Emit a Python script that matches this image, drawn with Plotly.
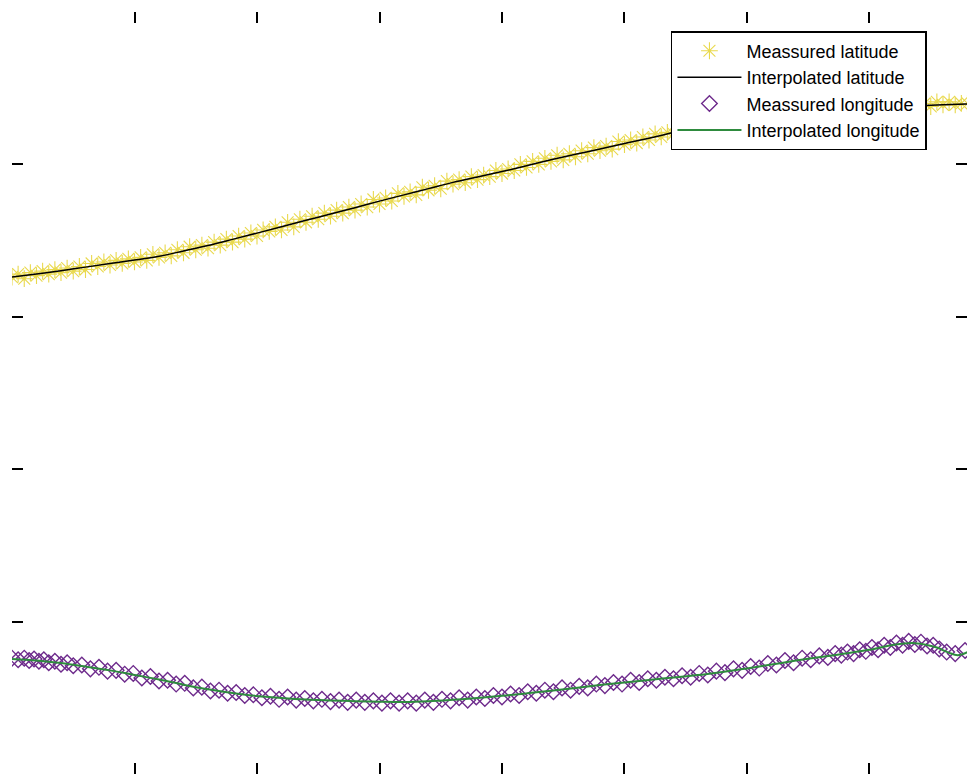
import plotly.graph_objects as go

# ---------------- data ----------------
x_ticks = [100, 200, 300, 400, 500, 600, 700]
y_ticks = [1, 2, 3, 4]

# interpolated latitude (smooth curve)
lat_interp_x = [0, 20, 40, 60, 80, 100, 120, 140, 160, 180, 200, 220, 240, 260, 280, 300,
                320, 340, 360, 380, 400, 420, 440, 460, 480, 500, 520, 540, 560, 580, 600,
                620, 640, 660, 680, 700, 720, 740, 760, 780]
lat_interp_y = [3.261, 3.281, 3.302, 3.326, 3.350, 3.372, 3.397, 3.432, 3.468, 3.508, 3.549,
                3.591, 3.633, 3.674, 3.716, 3.759, 3.800, 3.841, 3.882, 3.918, 3.953, 3.991,
                4.030, 4.066, 4.101, 4.137, 4.172, 4.209, 4.242, 4.272, 4.298, 4.320, 4.338,
                4.352, 4.363, 4.371, 4.378, 4.385, 4.391, 4.397]

# measured latitude (noisy samples)
lat_meas_x = list(range(0, 781, 5))
lat_meas_y = [3.26, 3.28, 3.25, 3.29, 3.27, 3.30, 3.28, 3.31, 3.29, 3.32, 3.30, 3.33, 3.31, 3.35,
              3.33, 3.36, 3.34, 3.37, 3.35, 3.38, 3.36, 3.39, 3.37, 3.41, 3.39, 3.42, 3.40, 3.44,
              3.42, 3.46, 3.44, 3.47, 3.45, 3.49, 3.47, 3.51, 3.49, 3.53, 3.51, 3.55, 3.53, 3.57,
              3.56, 3.59, 3.57, 3.62, 3.59, 3.64, 3.62, 3.66, 3.64, 3.68, 3.66, 3.70, 3.68, 3.72,
              3.70, 3.74, 3.72, 3.77, 3.74, 3.78, 3.76, 3.81, 3.79, 3.82, 3.80, 3.85, 3.83, 3.86,
              3.84, 3.89, 3.87, 3.90, 3.88, 3.92, 3.90, 3.93, 3.92, 3.96, 3.94, 3.97, 3.96, 4.00,
              3.98, 4.02, 4.00, 4.04, 4.02, 4.06, 4.03, 4.07, 4.05, 4.09, 4.07, 4.11, 4.09, 4.12,
              4.10, 4.15, 4.13, 4.16, 4.14, 4.18, 4.16, 4.20, 4.18, 4.21, 4.20, 4.23, 4.21, 4.25,
              4.23, 4.26, 4.25, 4.28, 4.26, 4.29, 4.28, 4.31, 4.29, 4.32, 4.30, 4.33, 4.31, 4.34,
              4.33, 4.35, 4.33, 4.36, 4.34, 4.37, 4.35, 4.37, 4.36, 4.38, 4.36, 4.38, 4.37, 4.39,
              4.37, 4.39, 4.37, 4.39, 4.38, 4.40, 4.38, 4.40, 4.39, 4.40, 4.38, 4.41, 4.39, 4.41,
              4.39, 4.40, 4.40]

# interpolated longitude (smooth curve)
lon_interp_x = [0, 20, 40, 60, 80, 100, 120, 140, 160, 180, 200, 220, 240, 260, 280, 300, 320,
                340, 360, 380, 400, 420, 440, 460, 480, 500, 520, 540, 560, 580, 600, 620, 640,
                660, 680, 700, 720, 735, 745, 755, 765, 772, 780]
lon_interp_y = [0.755, 0.745, 0.728, 0.705, 0.680, 0.650, 0.620, 0.586, 0.556, 0.532, 0.512,
                0.499, 0.489, 0.483, 0.478, 0.474, 0.472, 0.477, 0.487, 0.499, 0.513, 0.529,
                0.546, 0.565, 0.584, 0.600, 0.617, 0.633, 0.649, 0.670, 0.693, 0.718, 0.744,
                0.767, 0.790, 0.815, 0.848, 0.860, 0.850, 0.830, 0.795, 0.780, 0.800]

# measured longitude (noisy samples)
lon_meas_x = [0, 5, 10, 14, 18, 22, 26, 30, 35, 40, 45, 50, 57, 64, 71, 78, 85, 92, 99, 106, 113,
              120, 127, 134, 141, 148, 155, 162, 169, 176, 183, 190, 197, 204, 211, 218, 225, 232,
              239, 246, 253, 260, 267, 274, 281, 288, 295, 302, 309, 316, 323, 330, 337, 344, 351,
              358, 365, 372, 379, 386, 393, 400, 407, 414, 421, 428, 435, 442, 449, 456, 463, 470,
              477, 484, 491, 498, 505, 512, 519, 526, 533, 540, 547, 554, 561, 568, 575, 582, 589,
              596, 603, 610, 617, 624, 631, 638, 645, 652, 659, 666, 672, 677, 682, 687, 692, 697,
              702, 707, 712, 717, 722, 727, 732, 737, 742, 747, 752, 757, 763, 770, 778]
lon_meas_y = [0.76, 0.75, 0.76, 0.745, 0.755, 0.74, 0.75, 0.73, 0.74, 0.72, 0.73, 0.71, 0.715,
              0.69, 0.70, 0.675, 0.68, 0.655, 0.66, 0.63, 0.64, 0.61, 0.615, 0.59, 0.595, 0.565,
              0.57, 0.545, 0.55, 0.53, 0.535, 0.515, 0.52, 0.50, 0.51, 0.49, 0.505, 0.485, 0.495,
              0.48, 0.49, 0.475, 0.485, 0.47, 0.485, 0.47, 0.48, 0.465, 0.48, 0.465, 0.48, 0.465,
              0.485, 0.47, 0.49, 0.48, 0.50, 0.485, 0.505, 0.495, 0.515, 0.505, 0.525, 0.515,
              0.54, 0.53, 0.55, 0.54, 0.565, 0.55, 0.575, 0.565, 0.59, 0.58, 0.60, 0.59, 0.615,
              0.60, 0.625, 0.615, 0.635, 0.625, 0.645, 0.635, 0.66, 0.65, 0.675, 0.665, 0.69,
              0.68, 0.705, 0.695, 0.725, 0.715, 0.745, 0.73, 0.76, 0.75, 0.775, 0.765, 0.79, 0.78,
              0.80, 0.79, 0.815, 0.805, 0.83, 0.815, 0.845, 0.83, 0.86, 0.845, 0.87, 0.85, 0.865,
              0.84, 0.845, 0.82, 0.80, 0.79, 0.81]

# ---------------- figure ----------------
YELLOW = "#E9D94E"
PURPLE = "#6E2B8C"
GREEN = "#2E8B3E"

fig = go.Figure()
fig.add_trace(go.Scatter(
    x=lat_meas_x, y=lat_meas_y, mode="markers", name="Meassured latitude",
    marker=dict(symbol="asterisk-open", size=14, color=YELLOW,
                line=dict(color=YELLOW, width=1.1))))
fig.add_trace(go.Scatter(
    x=lat_interp_x, y=lat_interp_y, mode="lines", name="Interpolated latitude",
    line=dict(color="black", width=1.5, shape="spline")))
fig.add_trace(go.Scatter(
    x=lon_meas_x, y=lon_meas_y, mode="markers", name="Meassured longitude",
    marker=dict(symbol="diamond-open", size=12, color=PURPLE,
                line=dict(color=PURPLE, width=1.4))))
fig.add_trace(go.Scatter(
    x=lon_interp_x, y=lon_interp_y, mode="lines", name="Interpolated longitude",
    line=dict(color=GREEN, width=2, shape="spline")))

axis_common = dict(showgrid=False, zeroline=False, showline=False, showticklabels=False,
                   ticks="inside", ticklen=11, tickwidth=2, tickcolor="black", mirror="ticks")

fig.update_layout(
    width=967, height=776,
    margin=dict(l=12, r=0, t=12, b=2),
    paper_bgcolor="white", plot_bgcolor="white",
    font=dict(family="Liberation Sans, Arial, sans-serif", color="black"),
    xaxis=dict(range=[0, 779.6], tickvals=x_ticks, **axis_common),
    yaxis=dict(range=[0, 5], tickvals=y_ticks, **axis_common),
    showlegend=True,
    legend=dict(x=0.69, y=0.975, xanchor="left", yanchor="top",
                bgcolor="white", bordercolor="black", borderwidth=1.5,
                font=dict(size=18, family="Liberation Sans, Arial, sans-serif"),
                itemwidth=64, tracegroupgap=0),
)

fig.write_html("out.html")
